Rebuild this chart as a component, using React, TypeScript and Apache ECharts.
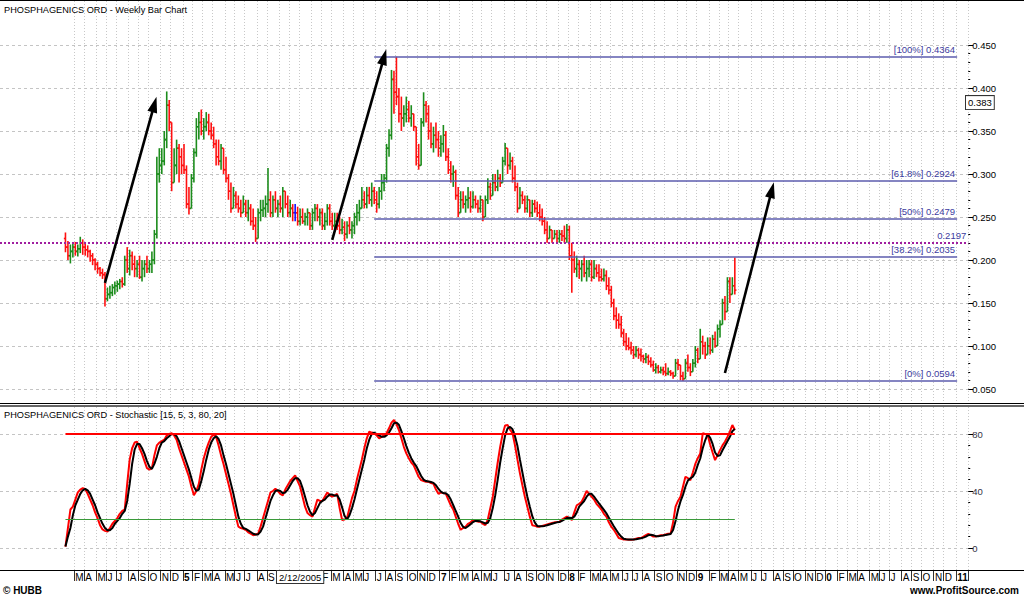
import React, { useEffect, useRef } from "react";
import * as echarts from "echarts";

const FONT = "'Liberation Sans', Arial, sans-serif";

// ---- time axis (weekly bars) ----
const AXIS_FIRST_WEEK = [2003, 7, 8]; // Fri 8 Aug 2003 (month is 0-based)
const AXIS_WEEK_COUNT = 392;
const FIRST_BAR_WEEK = 26; // axis week of the first bar (Fri 6 Feb 2004)
const LAST_LABEL_DATE = [2011, 0, 31]; // no month labels after January 2011

const monthInitials = ["J", "F", "M", "A", "M", "J", "J", "A", "S", "O", "N", "D"];
const yearTickLabels: Record<number, string> = { 2005: "5", 2006: "6", 2007: "7", 2008: "8", 2009: "9", 2010: "0", 2011: "11" };

// ---- weekly OHLC (A$) ----
const opens = [
  0.225, 0.215, 0.205, 0.210, 0.215, 0.210, 0.213, 0.220, 0.215, 0.212,
  0.210, 0.205, 0.200, 0.195, 0.190, 0.185, 0.183, 0.155, 0.160, 0.162,
  0.168, 0.170, 0.172, 0.175, 0.172, 0.200, 0.190, 0.205, 0.195, 0.190,
  0.195, 0.180, 0.190, 0.195, 0.190, 0.195, 0.200, 0.230, 0.300, 0.310,
  0.315, 0.340, 0.380, 0.360, 0.290, 0.310, 0.330, 0.320, 0.310, 0.305,
  0.265, 0.260, 0.295, 0.325, 0.355, 0.360, 0.350, 0.355, 0.360, 0.350,
  0.345, 0.335, 0.320, 0.315, 0.330, 0.305, 0.295, 0.280, 0.260, 0.275,
  0.265, 0.260, 0.255, 0.265, 0.255, 0.260, 0.245, 0.240, 0.225, 0.255,
  0.258, 0.260, 0.265, 0.270, 0.255, 0.270, 0.260, 0.265, 0.260, 0.280,
  0.265, 0.255, 0.260, 0.255, 0.255, 0.245, 0.250, 0.245, 0.250, 0.255,
  0.240, 0.255, 0.260, 0.250, 0.255, 0.240, 0.245, 0.260, 0.245, 0.240,
  0.245, 0.240, 0.235, 0.238, 0.230, 0.240, 0.235, 0.240, 0.250, 0.255,
  0.260, 0.270, 0.265, 0.275, 0.270, 0.280, 0.270, 0.265, 0.280, 0.290,
  0.295, 0.330, 0.345, 0.410, 0.395, 0.390, 0.370, 0.365, 0.370, 0.375,
  0.365, 0.370, 0.355, 0.320, 0.310, 0.360, 0.380, 0.370, 0.350, 0.335,
  0.345, 0.340, 0.330, 0.335, 0.345, 0.320, 0.305, 0.300, 0.302, 0.275,
  0.255, 0.270, 0.265, 0.270, 0.272, 0.262, 0.270, 0.265, 0.260, 0.270,
  0.250, 0.270, 0.285, 0.275, 0.290, 0.285, 0.295, 0.290, 0.315, 0.330,
  0.310, 0.315, 0.295, 0.285, 0.260, 0.275, 0.270, 0.260, 0.270, 0.255,
  0.265, 0.260, 0.255, 0.250, 0.245, 0.235, 0.225, 0.235, 0.225, 0.230,
  0.225, 0.230, 0.228, 0.225, 0.235, 0.205, 0.200, 0.190, 0.195, 0.190,
  0.195, 0.185, 0.190, 0.195, 0.180, 0.190, 0.185, 0.180, 0.178, 0.182,
  0.170, 0.165, 0.150, 0.135, 0.130, 0.125, 0.115, 0.105, 0.100, 0.098,
  0.095, 0.090, 0.095, 0.090, 0.088, 0.085, 0.087, 0.082, 0.078, 0.072,
  0.075, 0.070, 0.072, 0.070, 0.068, 0.070, 0.068, 0.065, 0.080, 0.078,
  0.065, 0.062, 0.080, 0.075, 0.070, 0.080, 0.095, 0.085, 0.105, 0.100,
  0.090, 0.100, 0.095, 0.108, 0.100, 0.120, 0.125, 0.150, 0.140, 0.175,
  0.160, 0.170,
];
const highs = [
  0.232, 0.222, 0.218, 0.220, 0.221, 0.218, 0.227, 0.224, 0.220, 0.217,
  0.212, 0.208, 0.202, 0.198, 0.192, 0.190, 0.186, 0.168, 0.170, 0.172,
  0.175, 0.176, 0.178, 0.180, 0.205, 0.215, 0.212, 0.210, 0.205, 0.200,
  0.205, 0.200, 0.200, 0.205, 0.200, 0.210, 0.235, 0.320, 0.330, 0.330,
  0.350, 0.396, 0.386, 0.360, 0.330, 0.340, 0.335, 0.330, 0.335, 0.310,
  0.285, 0.300, 0.330, 0.365, 0.372, 0.375, 0.365, 0.372, 0.370, 0.360,
  0.355, 0.340, 0.340, 0.335, 0.330, 0.320, 0.300, 0.290, 0.285, 0.280,
  0.275, 0.270, 0.275, 0.270, 0.270, 0.265, 0.260, 0.250, 0.260, 0.270,
  0.270, 0.275, 0.307, 0.280, 0.275, 0.280, 0.270, 0.275, 0.285, 0.280,
  0.275, 0.270, 0.265, 0.265, 0.262, 0.260, 0.260, 0.255, 0.260, 0.255,
  0.260, 0.265, 0.265, 0.260, 0.260, 0.255, 0.265, 0.265, 0.255, 0.255,
  0.255, 0.250, 0.248, 0.245, 0.245, 0.250, 0.245, 0.255, 0.265, 0.270,
  0.285, 0.280, 0.285, 0.285, 0.290, 0.285, 0.280, 0.285, 0.300, 0.300,
  0.335, 0.352, 0.421, 0.420, 0.4364, 0.400, 0.390, 0.380, 0.390, 0.385,
  0.380, 0.370, 0.355, 0.335, 0.365, 0.395, 0.385, 0.380, 0.360, 0.355,
  0.360, 0.350, 0.345, 0.357, 0.350, 0.330, 0.315, 0.310, 0.305, 0.285,
  0.280, 0.280, 0.275, 0.285, 0.280, 0.280, 0.275, 0.270, 0.275, 0.270,
  0.275, 0.295, 0.290, 0.300, 0.300, 0.305, 0.300, 0.320, 0.336, 0.330,
  0.325, 0.320, 0.310, 0.290, 0.285, 0.280, 0.275, 0.275, 0.270, 0.270,
  0.270, 0.268, 0.265, 0.260, 0.250, 0.245, 0.240, 0.235, 0.235, 0.235,
  0.235, 0.235, 0.240, 0.242, 0.240, 0.220, 0.210, 0.205, 0.200, 0.200,
  0.205, 0.200, 0.200, 0.200, 0.200, 0.195, 0.195, 0.190, 0.190, 0.188,
  0.180, 0.170, 0.155, 0.145, 0.138, 0.135, 0.120, 0.115, 0.110, 0.105,
  0.100, 0.100, 0.098, 0.097, 0.090, 0.092, 0.090, 0.087, 0.083, 0.080,
  0.078, 0.076, 0.076, 0.080, 0.075, 0.072, 0.070, 0.085, 0.085, 0.078,
  0.070, 0.085, 0.090, 0.080, 0.085, 0.100, 0.098, 0.120, 0.112, 0.105,
  0.110, 0.110, 0.113, 0.117, 0.125, 0.130, 0.155, 0.158, 0.180, 0.180,
  0.180, 0.203,
];
const lows = [
  0.209, 0.200, 0.196, 0.203, 0.205, 0.204, 0.208, 0.206, 0.205, 0.203,
  0.198, 0.194, 0.188, 0.184, 0.181, 0.178, 0.146, 0.152, 0.155, 0.158,
  0.160, 0.163, 0.166, 0.168, 0.170, 0.185, 0.182, 0.188, 0.180, 0.180,
  0.178, 0.175, 0.180, 0.185, 0.185, 0.185, 0.195, 0.225, 0.290, 0.300,
  0.310, 0.330, 0.350, 0.280, 0.290, 0.300, 0.290, 0.300, 0.300, 0.260,
  0.253, 0.260, 0.290, 0.320, 0.340, 0.345, 0.340, 0.350, 0.345, 0.340,
  0.330, 0.310, 0.310, 0.305, 0.300, 0.290, 0.270, 0.255, 0.260, 0.260,
  0.255, 0.250, 0.255, 0.250, 0.245, 0.240, 0.235, 0.221, 0.225, 0.245,
  0.250, 0.250, 0.255, 0.250, 0.250, 0.255, 0.250, 0.255, 0.250, 0.260,
  0.250, 0.250, 0.245, 0.245, 0.240, 0.240, 0.242, 0.240, 0.240, 0.235,
  0.235, 0.245, 0.245, 0.240, 0.235, 0.235, 0.240, 0.240, 0.235, 0.235,
  0.235, 0.230, 0.230, 0.222, 0.225, 0.230, 0.225, 0.230, 0.240, 0.245,
  0.260, 0.260, 0.260, 0.265, 0.262, 0.265, 0.255, 0.260, 0.270, 0.280,
  0.290, 0.320, 0.340, 0.370, 0.380, 0.360, 0.350, 0.355, 0.360, 0.360,
  0.355, 0.350, 0.310, 0.305, 0.310, 0.355, 0.360, 0.340, 0.330, 0.325,
  0.330, 0.320, 0.320, 0.325, 0.315, 0.300, 0.290, 0.285, 0.270, 0.250,
  0.255, 0.260, 0.255, 0.260, 0.255, 0.260, 0.260, 0.255, 0.255, 0.245,
  0.250, 0.265, 0.270, 0.275, 0.280, 0.280, 0.285, 0.290, 0.310, 0.300,
  0.305, 0.290, 0.280, 0.255, 0.260, 0.265, 0.255, 0.255, 0.250, 0.250,
  0.255, 0.250, 0.245, 0.240, 0.230, 0.220, 0.225, 0.220, 0.225, 0.220,
  0.220, 0.222, 0.220, 0.220, 0.200, 0.162, 0.185, 0.180, 0.178, 0.175,
  0.180, 0.175, 0.180, 0.175, 0.178, 0.180, 0.175, 0.175, 0.175, 0.165,
  0.160, 0.145, 0.130, 0.120, 0.120, 0.110, 0.100, 0.095, 0.095, 0.090,
  0.085, 0.087, 0.085, 0.082, 0.080, 0.080, 0.078, 0.075, 0.070, 0.068,
  0.068, 0.068, 0.066, 0.065, 0.066, 0.065, 0.062, 0.065, 0.072, 0.060,
  0.0594, 0.062, 0.070, 0.065, 0.070, 0.075, 0.080, 0.085, 0.090, 0.085,
  0.090, 0.090, 0.092, 0.098, 0.100, 0.110, 0.125, 0.130, 0.140, 0.150,
  0.160, 0.160,
];
const closes = [
  0.215, 0.205, 0.210, 0.215, 0.210, 0.213, 0.220, 0.215, 0.212, 0.210,
  0.205, 0.200, 0.195, 0.190, 0.185, 0.183, 0.155, 0.160, 0.162, 0.168,
  0.170, 0.172, 0.175, 0.172, 0.200, 0.190, 0.205, 0.195, 0.190, 0.195,
  0.180, 0.190, 0.195, 0.190, 0.195, 0.200, 0.230, 0.300, 0.310, 0.315,
  0.340, 0.380, 0.360, 0.290, 0.310, 0.330, 0.320, 0.310, 0.305, 0.265,
  0.260, 0.295, 0.325, 0.355, 0.360, 0.350, 0.355, 0.360, 0.350, 0.345,
  0.335, 0.320, 0.315, 0.330, 0.305, 0.295, 0.280, 0.260, 0.275, 0.265,
  0.260, 0.255, 0.265, 0.255, 0.260, 0.245, 0.240, 0.225, 0.255, 0.258,
  0.260, 0.265, 0.270, 0.255, 0.270, 0.260, 0.265, 0.260, 0.280, 0.265,
  0.255, 0.260, 0.255, 0.255, 0.245, 0.250, 0.245, 0.250, 0.255, 0.240,
  0.255, 0.260, 0.250, 0.255, 0.240, 0.245, 0.260, 0.245, 0.240, 0.245,
  0.240, 0.235, 0.238, 0.230, 0.240, 0.235, 0.240, 0.250, 0.255, 0.260,
  0.270, 0.265, 0.275, 0.270, 0.280, 0.270, 0.265, 0.280, 0.290, 0.295,
  0.330, 0.345, 0.410, 0.395, 0.390, 0.370, 0.365, 0.370, 0.375, 0.365,
  0.370, 0.355, 0.320, 0.310, 0.360, 0.380, 0.370, 0.350, 0.335, 0.345,
  0.340, 0.330, 0.335, 0.345, 0.320, 0.305, 0.300, 0.302, 0.275, 0.255,
  0.270, 0.265, 0.270, 0.272, 0.262, 0.270, 0.265, 0.260, 0.270, 0.250,
  0.270, 0.285, 0.275, 0.290, 0.285, 0.295, 0.290, 0.315, 0.330, 0.310,
  0.315, 0.295, 0.285, 0.260, 0.275, 0.270, 0.260, 0.270, 0.255, 0.265,
  0.260, 0.255, 0.250, 0.245, 0.235, 0.225, 0.235, 0.225, 0.230, 0.225,
  0.230, 0.228, 0.225, 0.235, 0.205, 0.200, 0.190, 0.195, 0.190, 0.195,
  0.185, 0.190, 0.195, 0.180, 0.190, 0.185, 0.180, 0.178, 0.182, 0.170,
  0.165, 0.150, 0.135, 0.130, 0.125, 0.115, 0.105, 0.100, 0.098, 0.095,
  0.090, 0.095, 0.090, 0.088, 0.085, 0.087, 0.082, 0.078, 0.072, 0.075,
  0.070, 0.072, 0.070, 0.068, 0.070, 0.068, 0.065, 0.080, 0.078, 0.065,
  0.062, 0.080, 0.075, 0.070, 0.080, 0.095, 0.085, 0.105, 0.100, 0.090,
  0.100, 0.095, 0.108, 0.100, 0.120, 0.125, 0.150, 0.140, 0.175, 0.160,
  0.170, 0.165,
];

// ---- Stochastic [15, 5, 3, 80, 20] ----
const stochK = [
  1, 14, 27, 29, 34, 39, 41, 42, 41.5, 38,
  34, 30, 25, 21, 16, 13, 12, 11.5, 14, 17,
  19, 21, 24, 26, 27, 45, 62, 70, 74, 74.6,
  70, 66, 61, 56, 55, 56, 65, 72, 74, 75,
  76, 79, 80, 80.5, 79, 76, 70, 65, 60, 55,
  50, 43, 37, 40, 45, 55, 63, 69, 74, 78,
  79.5, 78, 72, 65, 59, 52, 45, 38, 30, 22,
  15, 14, 13.5, 12.7, 11, 10, 9, 9.5, 10, 15,
  21, 27, 33, 39, 40, 41.5, 40, 38, 37, 41,
  44, 47, 49, 51, 47, 43, 36, 29, 24.5, 23,
  22, 28, 34, 33, 33, 36, 39, 37, 36, 37,
  38, 28, 19.6, 20, 21, 28, 35, 40, 48, 55,
  62, 70, 77, 81.6, 81, 80.5, 79, 77, 78, 79,
  80.5, 84, 88, 89.8, 87, 82.8, 77, 71, 66.4, 63,
  60, 58, 54, 50, 47.6, 47, 46.5, 46.5, 45.5, 45,
  41, 38, 39, 38.5, 38, 34, 30, 27, 22, 17,
  12.8, 14, 15, 17, 18, 19.6, 19, 18.5, 18.5, 17,
  16, 20, 28, 36, 48, 60, 71, 80, 86, 86.3,
  83, 80.5, 72, 62, 52.4, 44, 36, 29, 22, 16,
  15.5, 15, 15, 15.5, 16, 16.5, 17, 17.5, 18, 18.2,
  18.5, 20, 21, 22, 21, 19.6, 25, 30, 31, 32.5,
  36, 40, 38, 36, 34, 31, 29, 27, 24, 22,
  18, 15, 12.8, 10, 7, 6.5, 6, 6, 5.8, 5.8,
  6, 6.5, 7, 7, 8, 9, 10, 9, 8, 8,
  8.5, 9, 9, 9.5, 10, 10, 18, 29, 33, 36,
  43, 50, 49, 47.6, 53, 59, 63, 66.4, 80.5, 80,
  79.5, 72.6, 67, 61.7, 65, 68.7, 72, 74.6, 78, 81.6,
  86.3, 82.8,
];
const stochD = [
  1, 8, 14, 23, 30, 34, 38, 40.5, 41.5, 40.5,
  38, 34, 30, 25, 21, 17, 14, 12.5, 12.5, 14,
  17, 19, 21, 24, 26, 33, 45, 59, 69, 73,
  73, 70, 66, 61, 57, 55.5, 59, 64, 70, 74,
  75, 77, 78.5, 80, 80, 78.5, 75, 70, 65, 60,
  55, 49, 43, 40, 41, 47, 54, 62, 69, 74,
  77, 78.5, 76.5, 72, 65, 59, 52, 45, 38, 30,
  22, 17, 14, 13.4, 12.4, 11.2, 10, 9.5, 9.5, 11.5,
  15, 21, 27, 33, 37, 40, 40.5, 40, 38.5, 39,
  41, 44, 47, 49, 49, 47, 42, 36, 30, 25.5,
  23, 24.5, 28, 31.5, 33, 34, 36, 37.5, 37.5, 36.7,
  37, 34, 28.5, 22.5, 20, 23, 28, 34, 41, 48,
  55, 62, 70, 76, 80, 81, 80, 79, 78, 78,
  79, 81, 84, 87.5, 88, 86.5, 82, 77, 71.5, 67,
  63, 60, 57.5, 54, 50.5, 48, 47, 46.7, 46.3, 45.7,
  44, 41.5, 39.5, 38.5, 38.5, 37, 34, 30, 26, 22,
  17.5, 14.8, 14, 15.3, 16.7, 18.2, 19, 19, 18.7, 18,
  17.2, 17.7, 21, 28, 37, 48, 60, 70, 79, 84,
  85, 83.3, 78.5, 71.5, 62, 53, 44, 36, 29, 22.3,
  18, 15.5, 15.2, 15.2, 15.5, 16, 16.5, 17, 17.5, 18,
  18.2, 19, 20, 21, 21.3, 21, 22, 25, 29, 31,
  33, 36, 38, 38, 36, 33.7, 31.3, 29, 26.7, 24.3,
  21.3, 18.3, 15.3, 12.6, 10, 8, 6.5, 6.2, 6, 5.9,
  5.9, 6.1, 6.5, 6.8, 7.3, 8, 9, 9.3, 9, 8.3,
  8.2, 8.5, 8.8, 9.2, 9.5, 9.8, 12.7, 19, 26.7, 32.7,
  37.3, 43, 47.3, 48.9, 50, 53, 58.3, 62.8, 70, 75.6,
  80, 77.4, 73, 67, 64.6, 65, 68.6, 71.8, 74.9, 78,
  82, 83.6,
];
const stochOverbought = 80;
const stochOversold = 20;

// ---- annotations ----
const fibLevels = [
  { label: "[100%] 0.4364", value: 0.4364 },
  { label: "[61.8%] 0.2924", value: 0.2924 },
  { label: "[50%] 0.2479", value: 0.2479 },
  { label: "[38.2%] 0.2035", value: 0.2035 },
  { label: "[0%] 0.0594", value: 0.0594 },
];
const fibFromWeek = 151;
const fibToWeek = 387;
const referencePrice = 0.2197;
const cursorPrice = 0.383;
const cursorWeek = 121; // Fri 2 Dec 2005
const cursorDateLabel = "2/12/2005";
const cursorCoversWeeks = [110, 129]; // month labels hidden under the date box
// arrows: [fromWeek, fromPrice, toWeek, toPrice]
const arrows = [
  [42, 0.1733, 62, 0.381],
  [134, 0.2233, 155, 0.436],
  [293, 0.0686, 312, 0.2814],
];

export default function App() {
  const ref = useRef<HTMLDivElement>(null);

  useEffect(() => {
    document.body.style.margin = "0";
    const chart = echarts.init(ref.current!, null, { renderer: "svg" });

    const weeks: Date[] = [];
    for (let k = 0; k < AXIS_WEEK_COUNT; k++) {
      weeks.push(new Date(AXIS_FIRST_WEEK[0], AXIS_FIRST_WEEK[1], AXIS_FIRST_WEEK[2] + 7 * k));
    }
    const lastLabel = new Date(LAST_LABEL_DATE[0], LAST_LABEL_DATE[1], LAST_LABEL_DATE[2]);
    const categories = weeks.map((d) => `${d.getDate()}/${d.getMonth() + 1}/${d.getFullYear()}`);
    const isMonthStart = (k: number) =>
      k > FIRST_BAR_WEEK && weeks[k].getMonth() !== weeks[k - 1].getMonth() && weeks[k] <= lastLabel;
    const showsLabel = (k: number) =>
      isMonthStart(k) && !(k >= cursorCoversWeeks[0] && k <= cursorCoversWeeks[1]);
    const tickLabel = (k: number) => {
      const d = weeks[k];
      if (d.getMonth() === 0) return `{y|${yearTickLabels[d.getFullYear()] ?? ""}}`;
      return monthInitials[d.getMonth()];
    };

    const bars = closes.map((c, i) => [FIRST_BAR_WEEK + i, opens[i], highs[i], lows[i], c]);
    const kData = stochK.map((v, i) => [FIRST_BAR_WEEK + i, v]);
    const dData = stochD.map((v, i) => [FIRST_BAR_WEEK + i, v]);
    const lastBarWeek = FIRST_BAR_WEEK + closes.length - 1;

    const GRID_W = AXIS_WEEK_COUNT * 2.47;
    const grids = [
      { left: 0, width: GRID_W, top: 45, height: 344 },
      { left: 0, width: GRID_W, top: 1, height: 402 },
      { left: 0, width: GRID_W, top: 434, height: 114 },
      { left: 0, width: GRID_W, top: 407, height: 163 },
    ];
    const vGrid = {
      show: true,
      interval: (k: number) => isMonthStart(k),
      lineStyle: { color: "#c8c8c8", type: [1, 2] as any, width: 1 },
    };
    const hGrid = { show: true, lineStyle: { color: "#c4c4c4", type: [3, 3] as any, width: 1 } };

    const option: any = {
      animation: false,
      textStyle: { fontFamily: FONT },
      grid: grids,
      xAxis: [
        { gridIndex: 0, type: "category", data: categories, show: false },
        {
          gridIndex: 1, type: "category", data: categories,
          axisLine: { show: false }, axisTick: { show: false }, axisLabel: { show: false },
          splitLine: vGrid,
        },
        { gridIndex: 2, type: "category", data: categories, show: false },
        {
          gridIndex: 3, type: "category", data: categories,
          axisLine: { show: true, lineStyle: { color: "#000", width: 1 } },
          axisTick: { show: true, interval: (k: number) => isMonthStart(k), length: 11, lineStyle: { color: "#333" } },
          axisLabel: {
            show: true,
            interval: (k: number) => showsLabel(k),
            formatter: (_v: string, k: number) => tickLabel(k),
            align: "left",
            verticalAlign: "top",
            margin: 2,
            color: "#000",
            fontSize: 10,
            fontFamily: FONT,
            rich: { y: { fontWeight: "bold", fontSize: 10, color: "#000", fontFamily: FONT } },
          },
          splitLine: vGrid,
        },
      ],
      yAxis: [
        {
          gridIndex: 0, type: "value", position: "right",
          min: 0.05, max: 0.45, interval: 0.05,
          axisLine: { show: false },
          axisTick: { show: true, length: 5, lineStyle: { color: "#000" } },
          minorTick: { show: true, splitNumber: 5, length: 2, lineStyle: { color: "#000" } },
          axisLabel: { color: "#000", fontSize: 9.5, margin: 4, formatter: (v: number) => v.toFixed(3), fontFamily: FONT },
          splitLine: hGrid,
        },
        { gridIndex: 1, type: "value", show: false, splitLine: { show: false } },
        {
          gridIndex: 2, type: "value", position: "right",
          min: 0, max: 80, interval: 40,
          axisLine: { show: false },
          axisTick: { show: true, length: 5, lineStyle: { color: "#000" } },
          minorTick: { show: true, splitNumber: 5, length: 2, lineStyle: { color: "#000" } },
          axisLabel: { color: "#334", fontSize: 9.5, margin: 4, fontFamily: FONT },
          splitLine: hGrid,
        },
        { gridIndex: 3, type: "value", show: false, splitLine: { show: false } },
      ],
      series: [
        {
          type: "custom",
          name: "Weekly bars",
          xAxisIndex: 0,
          yAxisIndex: 0,
          data: bars,
          encode: { x: 0, y: [1, 2, 3, 4] },
          clip: false,
          renderItem: (_p: any, api: any) => {
            const k = api.value(0);
            const o = api.value(1), h = api.value(2), l = api.value(3), c = api.value(4);
            const [x, yo] = api.coord([k, o]);
            const yh = api.coord([k, h])[1];
            const yl = api.coord([k, l])[1];
            const yc = api.coord([k, c])[1];
            const color = c > o ? "#1c8c1c" : c < o ? "#ff1010" : "#1010ff";
            const st = { stroke: color, lineWidth: 1.6 };
            return {
              type: "group",
              children: [
                { type: "line", shape: { x1: x, y1: yh, x2: x, y2: yl }, style: st },
                { type: "line", shape: { x1: x - 1.6, y1: yo, x2: x, y2: yo }, style: st },
                { type: "line", shape: { x1: x, y1: yc, x2: x + 1.6, y2: yc }, style: st },
              ],
            };
          },
          markLine: {
            silent: true,
            animation: false,
            symbol: "none",
            data: [
              ...fibLevels.map((f) => [
                { coord: [fibFromWeek, f.value], lineStyle: { color: "#5c5cae", width: 1.6, type: "solid" } },
                {
                  coord: [fibToWeek, f.value],
                  label: {
                    show: true, position: "insideEndTop", formatter: f.label, color: "#3c3ca0",
                    fontSize: 9.5, fontFamily: FONT, distance: 2,
                  },
                },
              ]),
              {
                yAxis: referencePrice,
                lineStyle: { color: "#a01ea0", width: 2, type: [2, 2] },
                label: {
                  show: true, position: "insideEndTop", formatter: String(referencePrice), color: "#3c3ca0",
                  fontSize: 9.5, fontFamily: FONT, distance: 2,
                },
              },
              ...arrows.map((a) => [
                { coord: [a[0], a[1]], symbol: "none", lineStyle: { color: "#000", width: 2.6, type: "solid" } },
                { coord: [a[2], a[3]], symbol: "triangle", symbolSize: [10, 16] },
              ]),
            ],
          },
          z: 3,
        },
        {
          type: "line",
          name: "%K",
          xAxisIndex: 2,
          yAxisIndex: 2,
          data: kData,
          symbol: "none",
          clip: false,
          lineStyle: { color: "#ff0000", width: 2 },
          markLine: {
            silent: true,
            symbol: "none",
            data: [
              [
                { coord: [FIRST_BAR_WEEK, stochOverbought], lineStyle: { color: "#ff0000", width: 2, type: "solid" } },
                { coord: [lastBarWeek, stochOverbought] },
              ],
              [
                { coord: [FIRST_BAR_WEEK, stochOversold], lineStyle: { color: "#3a9a3a", width: 1.2, type: "solid" } },
                { coord: [lastBarWeek, stochOversold] },
              ],
            ],
            label: { show: false },
          },
          z: 2,
        },
        {
          type: "line",
          name: "%D",
          xAxisIndex: 2,
          yAxisIndex: 2,
          data: dData,
          symbol: "none",
          clip: false,
          lineStyle: { color: "#000000", width: 2 },
          z: 3,
        },
      ],
    };

    chart.setOption(option);

    const yCursor = chart.convertToPixel({ gridIndex: 0 } as any, [0, cursorPrice])[1];
    const xCursor = chart.convertToPixel({ gridIndex: 3 } as any, [cursorWeek, 0])[0];

    chart.setOption({
      graphic: [
        { type: "rect", shape: { x: 0, y: 0, width: 1024, height: 1 }, style: { fill: "#000" }, z: 100 },
        { type: "rect", shape: { x: 0, y: 403, width: 1024, height: 1 }, style: { fill: "#000" }, z: 100 },
        { type: "rect", shape: { x: 0, y: 405, width: 1024, height: 2 }, style: { fill: "#666" }, z: 100 },
        { type: "rect", shape: { x: 0, y: 570, width: 1024, height: 1 }, style: { fill: "#000" }, z: 100 },
        {
          type: "text", x: 4, y: 5, z: 100,
          style: { text: "PHOSPHAGENICS ORD - Weekly Bar Chart", fill: "#000", font: `9.2px ${FONT}` },
        },
        {
          type: "text", x: 4, y: 410, z: 100,
          style: { text: "PHOSPHAGENICS ORD - Stochastic [15, 5, 3, 80, 20]", fill: "#000", font: `9.2px ${FONT}` },
        },
        {
          type: "text", x: 3, y: 585, z: 100,
          style: { text: "© HUBB", fill: "#000", font: `bold 10px ${FONT}` },
        },
        {
          type: "text", x: 1019, y: 585, z: 100,
          style: { text: "www.ProfitSource.com", fill: "#000", font: `bold 10px ${FONT}`, align: "right" },
        },
        {
          type: "text", x: 966, y: yCursor, z: 100,
          style: {
            text: cursorPrice.toFixed(3), fill: "#000", font: `9.5px ${FONT}`, verticalAlign: "middle",
            backgroundColor: "#fff", borderColor: "#333", borderWidth: 1, padding: [2, 2, 1, 2],
          },
        },
        {
          type: "text", x: xCursor, y: 571, z: 100,
          style: {
            text: cursorDateLabel, fill: "#000", font: `9.5px ${FONT}`, align: "center",
            backgroundColor: "#fff", borderColor: "#333", borderWidth: 1, padding: [1, 2, 1, 2],
          },
        },
      ],
    });

    return () => chart.dispose();
  }, []);

  return (
    <div
      ref={ref}
      style={{ position: "absolute", left: 0, top: 0, width: 1024, height: 597, background: "#fff" }}
    />
  );
}
